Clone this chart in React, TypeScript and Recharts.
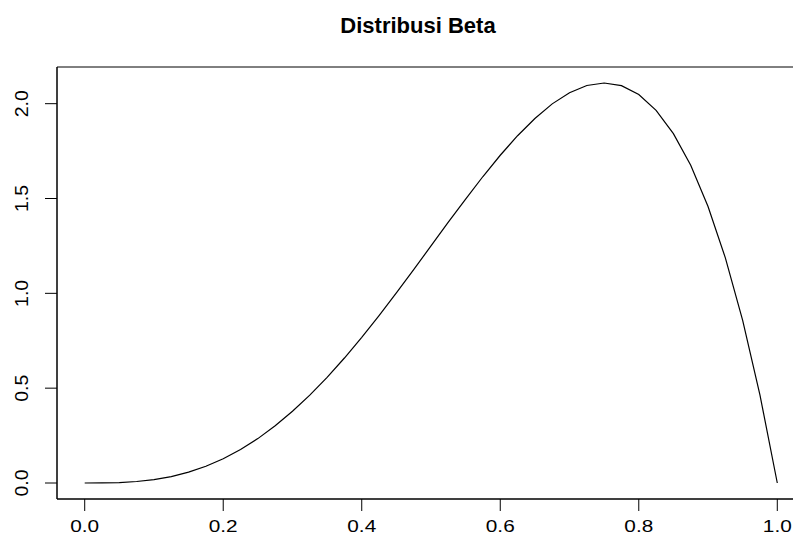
import { LineChart, Line, XAxis, YAxis, ReferenceArea } from "recharts";

// x from 0 to 1, density values
const xs = [
  0, 0.025, 0.05, 0.075, 0.1, 0.125, 0.15, 0.175, 0.2, 0.225, 0.25, 0.275, 0.3, 0.325,
  0.35, 0.375, 0.4, 0.425, 0.45, 0.475, 0.5, 0.525, 0.55, 0.575, 0.6, 0.625, 0.65,
  0.675, 0.7, 0.725, 0.75, 0.775, 0.8, 0.825, 0.85, 0.875, 0.9, 0.925, 0.95, 0.975, 1,
];
const density = [
  0, 0.0003, 0.0024, 0.0078, 0.018, 0.034, 0.057, 0.088, 0.128, 0.177, 0.234, 0.302,
  0.378, 0.463, 0.557, 0.659, 0.768, 0.883, 1.002, 1.125, 1.25, 1.375, 1.497, 1.616,
  1.728, 1.831, 1.922, 1.999, 2.058, 2.096, 2.109, 2.095, 2.048, 1.965, 1.842, 1.675,
  1.458, 1.187, 0.857, 0.463, 0,
];
const xTicks = [0, 0.2, 0.4, 0.6, 0.8, 1.0];
const yTicks = [0, 0.5, 1.0, 1.5, 2.0];

const data = xs.map((x, i) => ({ x, y: density[i] }));

// R-style 4% padding on both axes
const xDomain = [-0.04, 1.04];
const yMax = 2.109;
const yDomain = [-0.04 * yMax, yMax * 1.04];

const font = "'Liberation Sans', Arial, sans-serif";

// the original labels are a bit stretched sideways
const XTick = (props: any) => {
  const { x, y, payload } = props;
  return (
    <text
      transform={`translate(${x},${y + 13}) scale(1.3,1)`}
      textAnchor="middle"
      dominantBaseline="central"
      fontFamily={font}
      fontSize={16}
      fill="#000"
    >
      {payload.value.toFixed(1)}
    </text>
  );
};

const YTick = (props: any) => {
  const { x, y, payload } = props;
  return (
    <text
      transform={`translate(${x - 21},${y}) scale(1.12,1) rotate(-90) scale(1.22,1)`}
      textAnchor="middle"
      dominantBaseline="central"
      fontFamily={font}
      fontSize={16}
      fill="#000"
    >
      {payload.value.toFixed(1)}
    </text>
  );
};

export default function App() {
  return (
    <div style={{ margin: -8, width: 801, height: 544, overflow: "hidden", position: "relative", background: "#fff" }}>
      <div
        style={{
          position: "absolute",
          left: 418,
          top: 14,
          transform: "translateX(-50%)",
          fontFamily: font,
          fontWeight: "bold",
          fontSize: 22,
          whiteSpace: "nowrap",
          lineHeight: "24px",
        }}
      >
        Distribusi Beta
      </div>
      <LineChart width={810} height={544} data={data} margin={{ top: 67, right: 5, bottom: 0, left: 0 }}>
        <XAxis
          dataKey="x"
          type="number"
          domain={xDomain}
          ticks={xTicks}
          height={45}
          stroke="#000"
          tickSize={12}
          tick={<XTick />}
          interval={0}
        />
        <YAxis
          type="number"
          domain={yDomain}
          ticks={yTicks}
          width={57}
          stroke="#000"
          tickSize={12}
          tick={<YTick />}
          interval={0}
        />
        <ReferenceArea
          x1={xDomain[0]}
          x2={xDomain[1]}
          y1={yDomain[0]}
          y2={yDomain[1]}
          fill="none"
          stroke="#000"
          strokeWidth={1}
          ifOverflow="extendDomain"
        />
        <Line dataKey="y" type="linear" stroke="#000" strokeWidth={1.2} dot={false} isAnimationActive={false} />
      </LineChart>
    </div>
  );
}
